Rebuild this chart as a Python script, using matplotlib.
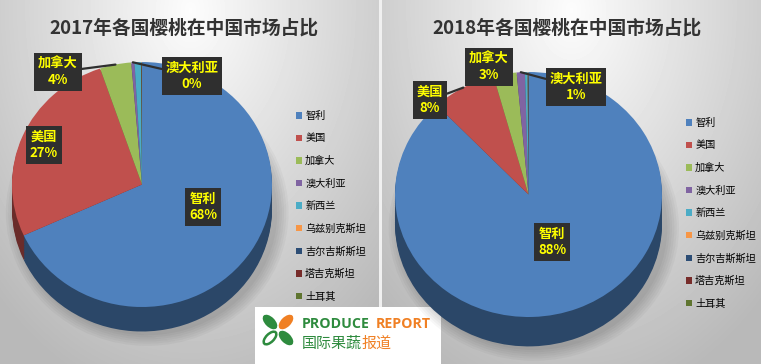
import numpy as np
import matplotlib
matplotlib.use('Agg')
import matplotlib.pyplot as plt
from matplotlib.patches import Rectangle, Ellipse

plt.rcParams['font.family'] = ['Noto Sans CJK SC', 'DejaVu Sans']

# ---- data ----
countries = ['智利', '美国', '加拿大', '澳大利亚', '新西兰',
             '乌兹别克斯坦', '吉尔吉斯斯坦', '塔吉克斯坦', '土耳其']
share_2017 = [68.2, 26.6, 3.9, 0.4, 0.8, 0.03, 0.03, 0.03, 0.03]
share_2018 = [88.0, 7.8, 2.8, 1.0, 0.3, 0.03, 0.03, 0.03, 0.03]
labelled = ['智利', '美国', '加拿大', '澳大利亚']
titles = ['2017年各国樱桃在中国市场占比', '2018年各国樱桃在中国市场占比']

colors = ['#4F81BD', '#C0504D', '#9BBB59', '#8064A2', '#4BACC6',
          '#F79646', '#2C4D75', '#772C2A', '#5F7530']

W, H = 761, 364
fig = plt.figure(figsize=(W / 100, H / 100), dpi=100)

# ---- background (two panels with soft gradient) ----
bg = fig.add_axes([0, 0, 1, 1])
bg.set_xlim(0, W)
bg.set_ylim(H, 0)
bg.axis('off')
yy, xx = np.mgrid[0:H, 0:W]
img = np.zeros((H, W))
for cx, x0, x1 in [(190, 0, 380), (571, 381, W)]:
    r = np.sqrt(((xx - cx) / 230.0) ** 2 + ((yy - 10) / 330.0) ** 2)
    v = 0.99 - 0.22 * np.clip(r, 0, 1.2)
    mask = (xx >= x0) & (xx < x1)
    img[mask] = v[mask]
img[:, 379:382] = 0.94
bg.imshow(img, cmap='gray', vmin=0, vmax=1, extent=(0, W, H, 0),
          aspect='auto', zorder=0)


def darken(c, f=0.55):
    rgb = np.array(matplotlib.colors.to_rgb(c))
    return tuple(rgb * f)


def px_axes(x0, y0, x1, y1):
    return fig.add_axes([x0 / W, 1 - y1 / H, (x1 - x0) / W, (y1 - y0) / H])


def draw_pie(box, values, title, depth, title_x, label_pos, legend_xy):
    ax = px_axes(*box)
    # soft drop shadow
    for k in range(6):
        ax.add_patch(Ellipse((0.04, -depth - 0.03), 2.0 + 0.035 * k, 2.0 + 0.035 * k,
                             fc='black', ec='none', alpha=0.03, zorder=0))
    # side of the 3d pie
    dark = [darken(c) for c in colors]
    steps = 14
    for i in range(steps, 0, -1):
        ax.pie(values, colors=dark, startangle=90, counterclock=False,
               center=(0, -depth * i / steps), wedgeprops=dict(linewidth=0))
    wedges, _ = ax.pie(values, colors=colors, startangle=90, counterclock=False,
                       wedgeprops=dict(linewidth=0))
    ax.set_aspect('auto')
    ax.set_xlim(-1, 1)
    ax.set_ylim(-1, 1)
    ax.axis('off')
    for p in ax.patches:
        p.set_clip_on(False)

    total = sum(values)
    cum = np.cumsum([0] + list(values))
    for name in labelled:
        i = countries.index(name)
        mid = (cum[i] + values[i] / 2) / total
        ang = np.deg2rad(90 - 360 * mid)
        px, py, pointer = label_pos[name]
        pct = round(values[i] / total * 100)
        ax.annotate(f'{name}\n{pct}%', xy=(np.cos(ang), np.sin(ang)), xycoords='data',
                    xytext=(px, H - py), textcoords='figure pixels',
                    ha='center', va='center', fontsize=9.5, fontweight='bold',
                    color='#FFFF00', linespacing=1.25,
                    bbox=dict(boxstyle='square,pad=0.3', fc='#2f2f2f', ec='none'),
                    arrowprops=dict(arrowstyle='-', color='#2f2f2f', lw=1.6,
                                    shrinkA=0, shrinkB=0) if pointer else None,
                    annotation_clip=False, zorder=5)

    fig.text(title_x / W, 1 - 28 / H, title, ha='center', va='center',
             fontsize=13.5, fontweight='bold', color='#333333')

    ax.legend(wedges, countries, loc='upper left',
              bbox_to_anchor=(legend_xy[0] / W, 1 - legend_xy[1] / H),
              bbox_transform=fig.transFigure, frameon=False, fontsize=7.3,
              handlelength=0.6, handleheight=0.6, handletextpad=0.3,
              labelspacing=1.23, borderpad=0, borderaxespad=0)
    return ax


labels_2017 = {'智利': (203, 207, False), '美国': (44, 145, False),
               '加拿大': (58, 72, True), '澳大利亚': (192, 76, True)}
labels_2018 = {'智利': (552, 242, False), '美国': (430, 100, True),
               '加拿大': (489, 67, True), '澳大利亚': (576, 87, True)}

draw_pie((12, 62, 272, 307), share_2017, titles[0], 0.2, 184, labels_2017, (296, 111))
draw_pie((395, 72, 662, 317), share_2018, titles[1], 0.24, 567, labels_2018, (686, 118))

# ---- logo ----
bg.add_patch(Rectangle((255, 307), 186, 57, fc='white', ec='none', zorder=6))
green, orange = '#2E8B3E', '#F08024'
bg.add_patch(Ellipse((270, 322), 18, 10, angle=45, fc=green, ec='none', zorder=7))
bg.add_patch(Ellipse((286, 322), 18, 10, angle=-45, fc=orange, ec='none', zorder=7))
bg.add_patch(Ellipse((270, 338), 16, 8, angle=-45, fc='white', ec=green, lw=1.8, zorder=7))
bg.add_patch(Ellipse((286, 338), 18, 10, angle=45, fc=green, ec='none', zorder=7))
bg.text(302, 324, 'PRODUCE', ha='left', va='center', fontsize=10.2, fontweight='bold',
        family='Open Sans', color=green, zorder=8)
bg.text(431, 324, 'REPORT', ha='right', va='center', fontsize=10.2, fontweight='bold',
        family='Open Sans', color=orange, zorder=8)
bg.text(302, 344, '国际果蔬', ha='left', va='center', fontsize=10.8, color=green, zorder=8)
bg.text(361, 344, '报道', ha='left', va='center', fontsize=10.8, color=orange, zorder=8)

fig.savefig('out.png', dpi=100)
